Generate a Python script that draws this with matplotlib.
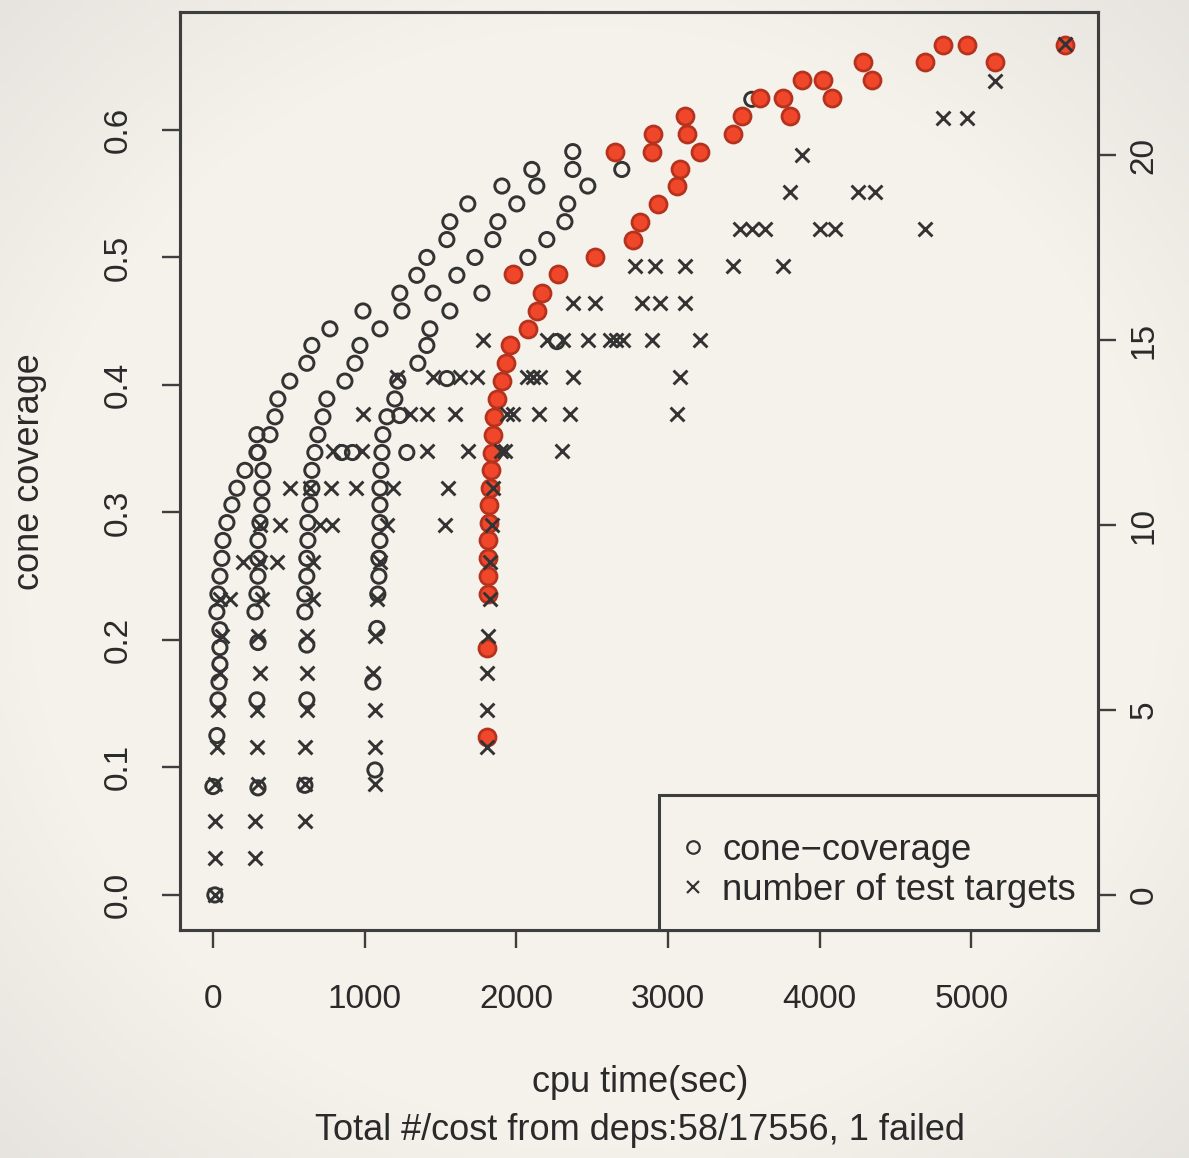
import numpy as np
import matplotlib
matplotlib.use("Agg")
import matplotlib.pyplot as plt
from matplotlib.lines import Line2D

plt.rcParams['font.family'] = ['Liberation Sans', 'DejaVu Sans']

# ---------------- data ----------------
# open circles: cone coverage of every dependency step
cov_time = [
    13, 0, 26, 33, 40, 46, 46, 46, 26, 33, 46, 59, 66, 92, 125, 158, 211, 290, 290, 409, 428,
    507, 619, 652, 771, 989, 1232, 1344, 1410, 1542, 1562, 1680, 1905, 2102, 2372,
    297, 290, 297, 277, 290, 297, 297, 297, 310, 323, 323, 330, 297, 376,
    606, 619, 619, 606, 606, 619, 619, 626, 626, 639, 652, 652, 672, 692, 725, 751,
    870, 936, 969, 1101, 1246, 1450, 1608, 1727, 1845, 1878, 2003, 2135, 2372,
    1068, 1054, 1081, 1087, 1094, 1094, 1101, 1101, 1101, 1101, 1107, 1114, 1120, 1147,
    1199, 1219, 1351, 1410, 1430, 1562, 1773, 2076, 2201, 2320, 2339, 2471, 2695,
    850, 920, 1278, 1232, 1542, 2267, 3552,
]
cov_value = [
    0.000, 0.085, 0.125, 0.153, 0.167, 0.181, 0.194, 0.208, 0.222, 0.236, 0.250, 0.264, 0.278,
    0.292, 0.306, 0.319, 0.333, 0.347, 0.361, 0.375, 0.389,
    0.403, 0.417, 0.431, 0.444, 0.458, 0.472, 0.486, 0.500, 0.514, 0.528, 0.542, 0.556, 0.569, 0.583,
    0.084, 0.153, 0.198, 0.222, 0.236, 0.250, 0.264, 0.278, 0.292, 0.306, 0.319, 0.333, 0.347, 0.361,
    0.086, 0.153, 0.196, 0.222, 0.236, 0.250, 0.264, 0.278, 0.292, 0.306, 0.319, 0.333, 0.347, 0.361,
    0.375, 0.389,
    0.403, 0.417, 0.431, 0.444, 0.458, 0.472, 0.486, 0.500, 0.514, 0.528, 0.542, 0.556, 0.569,
    0.098, 0.167, 0.209, 0.236, 0.250, 0.264, 0.278, 0.292, 0.306, 0.319, 0.333, 0.347, 0.361, 0.375,
    0.389, 0.403, 0.417, 0.431, 0.444, 0.458, 0.472, 0.500, 0.514, 0.528, 0.542, 0.556, 0.569,
    0.347, 0.347, 0.347, 0.376, 0.405, 0.434, 0.624,
]

# highlighted (red) cone-coverage points
red_time = [
    1806, 1806, 1812, 1812, 1812, 1812, 1818, 1818, 1825, 1832, 1839, 1845, 1852, 1872, 1905,
    1931, 1957, 2076, 2135, 2168, 1976, 2274, 2517, 2768, 2814, 2933, 3058, 3078, 3209, 2649,
    2893, 2900, 3124, 3110, 3427, 3486, 3605, 3756, 3802, 3882, 4020, 4079, 4284, 4343, 4692,
    4811, 4969, 5153, 5615,
]
red_value = [
    0.124, 0.194, 0.236, 0.250, 0.264, 0.278, 0.292, 0.306, 0.319, 0.333, 0.347, 0.361, 0.375,
    0.389, 0.403, 0.417, 0.431, 0.444, 0.458, 0.472, 0.487, 0.487, 0.500, 0.514, 0.528, 0.542,
    0.556, 0.569, 0.583, 0.583, 0.583, 0.597, 0.597, 0.611, 0.597, 0.611, 0.625, 0.625, 0.611,
    0.639, 0.639, 0.625, 0.653, 0.639, 0.653, 0.667, 0.667, 0.653, 0.667,
]

# crosses: number of test targets (right axis)
tgt_time = [
    13,
    13, 277,
    13, 277, 606,
    13, 297, 606, 1068,
    26, 290, 606, 1068, 1806,
    33, 290, 619, 1068, 1806,
    46, 310, 619, 1054, 1806,
    59, 297, 619, 1068, 1812,
    46, 112, 323, 659, 1081, 1825,
    198, 310, 422, 659, 1101, 1825,
    310, 442, 705, 784, 1147, 1529, 1839,
    507, 639, 778, 942, 1186, 1549, 1845,
    791, 982, 1410, 1680, 1900, 1925, 2300,
    989, 1298, 1410, 1595, 1940, 1975, 2150, 2353, 3058,
    1213, 1450, 1628, 1740, 2069, 2110, 2155, 2372, 3078,
    1779, 2201, 2307, 2471, 2620, 2660, 2700, 2893, 3209,
    2372, 2517, 2827, 2946, 3110,
    2781, 2913, 3110, 3427, 3756,
    3473, 3552, 3638, 4000, 4099, 4692,
    3802, 4251, 4363,
    3882,
    4811, 4969,
    5153,
    5615,
]
tgt_count = [
    0,
    1, 1,
    2, 2, 2,
    3, 3, 3, 3,
    4, 4, 4, 4, 4,
    5, 5, 5, 5, 5,
    6, 6, 6, 6, 6,
    7, 7, 7, 7, 7,
    8, 8, 8, 8, 8, 8,
    9, 9, 9, 9, 9, 9,
    10, 10, 10, 10, 10, 10, 10,
    11, 11, 11, 11, 11, 11, 11,
    12, 12, 12, 12, 12, 12, 12,
    13, 13, 13, 13, 13, 13, 13, 13, 13,
    14, 14, 14, 14, 14, 14, 14, 14, 14,
    15, 15, 15, 15, 15, 15, 15, 15, 15,
    16, 16, 16, 16, 16,
    17, 17, 17, 17, 17,
    18, 18, 18, 18, 18, 18,
    19, 19, 19,
    20,
    21, 21,
    22,
    23,
]

x_ticks = [0, 1000, 2000, 3000, 4000, 5000]
left_ticks = [0.0, 0.1, 0.2, 0.3, 0.4, 0.5, 0.6]
right_ticks = [0, 5, 10, 15, 20]

x_label = "cpu time(sec)"
sub_label = "Total #/cost from deps:58/17556, 1 failed"
y_label = "cone coverage"
legend_labels = ["cone\u2212coverage", "number of test targets"]

# ---------------- figure ----------------
W, H = 1189, 1158
BG = '#f5f2ec'
INK = '#333333'
FRAME = '#3e3e3e'
TXT = '#2a2a2a'
fig = plt.figure(figsize=(W / 100, H / 100), dpi=100, facecolor=BG)

# subtle vignette
bg_ax = fig.add_axes([0, 0, 1, 1], zorder=-10)
yy, xx = np.mgrid[-1:1:200j, -1:1:200j]
r = np.clip((np.sqrt(xx ** 2 + yy ** 2) - 0.95) / 0.5, 0, 1)
base = np.array([0.962, 0.950, 0.925])
dark = np.array([0.90, 0.89, 0.87])
img = base[None, None, :] * (1 - r[..., None]) + dark[None, None, :] * r[..., None]
bg_ax.imshow(img, extent=[0, 1, 0, 1], aspect='auto', interpolation='bilinear')
bg_ax.axis('off')

L, R, T, B = 180, 1098, 12, 930
ax = fig.add_axes([L / W, 1 - B / H, (R - L) / W, (B - T) / H])
ax.set_facecolor('none')

ax.set_xlim(-217, 5834)
ax.set_ylim(-0.0275, 0.6925)

ax.scatter(cov_time, cov_value, s=105, facecolors='none', edgecolors=INK,
           linewidths=2.1, zorder=2)
ax.scatter(red_time, red_value, s=150, facecolors='#f0472b', edgecolors='#b5331e',
           linewidths=2.0, zorder=3)

ax2 = ax.twinx()
ax2.set_ylim(-0.946, 23.865)
ax2.scatter(tgt_time, tgt_count, s=100, marker='x', color=INK, linewidths=2.1, zorder=4)

fs_tick = 24
for a in (ax, ax2):
    for sp in a.spines.values():
        sp.set_color(FRAME)
        sp.set_linewidth(2.2)

ax.set_xticks(x_ticks)
ax.set_xticklabels([str(v) for v in x_ticks])
ax.set_yticks(left_ticks)
ax.set_yticklabels([f"{v:.1f}" for v in left_ticks], rotation=90, va='center')
ax2.set_yticks(right_ticks)
ax2.set_yticklabels([str(v) for v in right_ticks], rotation=90, va='center')

ax.tick_params(axis='x', direction='out', length=13, width=1.7, colors=FRAME,
               labelcolor=TXT, labelsize=fs_tick, pad=26)
ax.tick_params(axis='y', direction='out', length=13, width=1.7, colors=FRAME,
               labelcolor=TXT, labelsize=fs_tick, pad=20)
ax2.tick_params(axis='y', direction='out', length=13, width=1.7, colors=FRAME,
                labelcolor=TXT, labelsize=fs_tick, pad=9)

fs_lab = 26
fig.text(30 / W, 1 - 472 / H, y_label, rotation=90, ha='center', va='center',
         fontsize=fs_lab, color=TXT)
fig.text(640 / W, 1 - 1083 / H, x_label, ha='center', va='center',
         fontsize=fs_lab, color=TXT)
fig.text(640 / W, 1 - 1130 / H, sub_label, ha='center', va='center',
         fontsize=fs_lab, color=TXT)

handles = [
    Line2D([], [], linestyle='none', marker='o', markersize=9, markerfacecolor='none',
           markeredgecolor=INK, markeredgewidth=1.6),
    Line2D([], [], linestyle='none', marker='x', markersize=9, color=INK,
           markeredgewidth=1.6),
]
leg = ax2.legend(handles, legend_labels, loc='lower right', borderaxespad=0,
                 fontsize=26.2, frameon=True, fancybox=False, framealpha=1,
                 facecolor=BG, edgecolor=FRAME, handlelength=0.65,
                 handletextpad=0.49, labelspacing=0.15, borderpad=0.6,
                 title=' ', title_fontsize=7)
leg.get_frame().set_linewidth(2.2)
for t in leg.get_texts():
    t.set_color(TXT)

fig.savefig('out.png', dpi=100, facecolor=BG)
